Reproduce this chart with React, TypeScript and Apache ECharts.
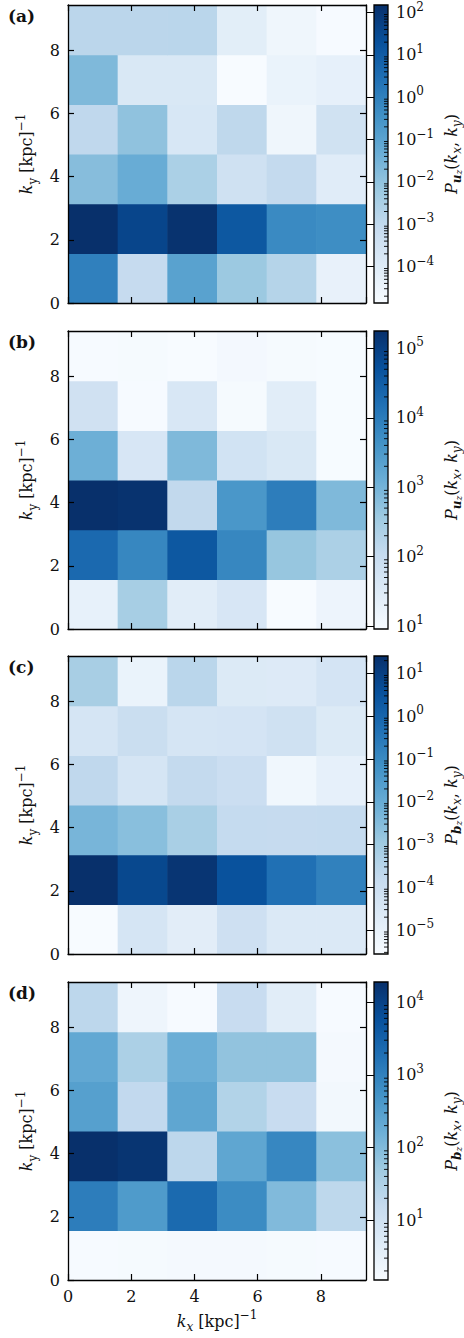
import React, { useEffect, useRef } from 'react';
import * as echarts from 'echarts';

// bin edges of k_x and k_y in [kpc]^-1
const kEdges = [0, Math.PI / 2, Math.PI, 1.5 * Math.PI, 2 * Math.PI, 2.5 * Math.PI, 3 * Math.PI];

// power spectra, rows = k_y bin (bottom -> top), columns = k_x bin (left -> right)
const powerUzA = [
  [1.04, 7.9e-4, 0.11, 6.5e-3, 1.9e-3, 4.7e-5],
  [151, 41, 129, 12.9, 0.56, 0.44],
  [1.5e-2, 5.4e-2, 3.1e-3, 3.7e-4, 8.7e-4, 8.9e-5],
  [1.08e-3, 1.04e-2, 1.85e-4, 1.14e-3, 2.6e-5, 3.4e-4],
  [2.07e-2, 1.6e-4, 1.6e-4, 1.38e-5, 4.0e-5, 5.5e-5],
  [1.4e-3, 1.4e-3, 1.45e-3, 7.6e-5, 2.6e-5, 1.5e-5],
];
const powerUzB = [
  [20, 277, 27, 45, 9.2, 15],
  [2.04e4, 6600, 3.96e4, 6600, 437, 241],
  [1.78e5, 1.62e5, 123, 3440, 9500, 785],
  [1216, 45, 785, 60, 40, 9.3],
  [65, 9.5, 42, 10.1, 27, 9.3],
  [9.5, 10, 9.2, 11, 9.8, 9.4],
];
const powerBzC = [
  [2.75e-6, 4.2e-5, 1.5e-5, 7.8e-5, 2.6e-5, 2.6e-5],
  [25.7, 6.1, 18.7, 3.3, 0.5, 0.18],
  [5.0e-3, 2.56e-3, 6.5e-4, 1.6e-4, 1.5e-4, 1.6e-4],
  [2.07e-4, 4.2e-5, 1.67e-4, 1.0e-4, 4.8e-6, 1.08e-5],
  [4.2e-5, 1.1e-4, 4.2e-5, 4.7e-5, 7.2e-5, 2.4e-5],
  [6.9e-4, 7.8e-6, 2.75e-4, 2.4e-5, 2.2e-5, 4.7e-5],
];
const powerBzD = [
  [1.6, 1.65, 1.7, 1.75, 1.65, 1.6],
  [1175, 378, 2340, 692, 101, 20],
  [1.9e4, 1.6e4, 20.6, 236, 805, 80],
  [307, 17.8, 236, 28.5, 14.6, 1.9],
  [217, 34, 170, 69, 69, 1.7],
  [21, 2.3, 1.6, 14.6, 4.3, 1.6],
];

// colour-bar ranges (log norm)
const rangeUzA = [1.38e-5, 151];
const rangeUzB = [9.06, 1.78e5];
const rangeBzC = [2.75e-6, 25.7];
const rangeBzD = [1.5, 1.9e4];

const panelTags = ['(a)', '(b)', '(c)', '(d)'];
const panelFields = ['u', 'u', 'b', 'b'];

const BLUES = ['#f7fbff', '#deebf7', '#c6dbef', '#9ecae1', '#6baed6', '#4292c6', '#2171b5', '#08519c', '#08306b'];
const FONT = 'DejaVu Serif';
const INK = '#111';

const GRID_LEFT = 68;
const GRID_W = 298;
const CB_LEFT = 374;
const CB_W = 15;
const TOPS = [5, 331, 656, 982];
const H = 298;

const base = { fontFamily: FONT, color: INK };
const rich: any = {
  i: { ...base, fontSize: 16, fontStyle: 'italic', lineHeight: 24 },
  n: { ...base, fontSize: 16, lineHeight: 24 },
  sb: { ...base, fontSize: 12, lineHeight: 14, verticalAlign: 'bottom' },
  sbi: { ...base, fontSize: 12, fontStyle: 'italic', lineHeight: 14, verticalAlign: 'bottom' },
  bsb: { ...base, fontSize: 12, fontStyle: 'italic', fontWeight: 'bold', lineHeight: 16, verticalAlign: 'bottom' },
  ssb: { ...base, fontSize: 9, fontStyle: 'italic', lineHeight: 6, verticalAlign: 'bottom' },
  sp: { ...base, fontSize: 12, lineHeight: 12, verticalAlign: 'top' },
  b: { ...base, fontSize: 16, lineHeight: 24 },
  s: { ...base, fontSize: 12, lineHeight: 12, verticalAlign: 'top' },
};

function decadeLabel(v: number) {
  const n = Math.log10(v);
  const r = Math.round(n);
  if (Math.abs(n - r) > 1e-6) return '';
  return `{b|10}{s|${r < 0 ? '\u2212' + -r : r}}`;
}

function minorTicks(range: number[]) {
  const out: number[][] = [];
  const lo = Math.floor(Math.log10(range[0]));
  const hi = Math.ceil(Math.log10(range[1]));
  for (let e = lo; e <= hi; e++) {
    for (let k = 2; k <= 9; k++) {
      const v = k * Math.pow(10, e);
      if (v > range[0] && v < range[1]) out.push([1, v]);
    }
  }
  return out;
}

function buildOption() {
  const valuesList = [powerUzA, powerUzB, powerBzC, powerBzD];
  const ranges = [rangeUzA, rangeUzB, rangeBzC, rangeBzD];
  const grid: any[] = [];
  const xAxis: any[] = [];
  const yAxis: any[] = [];
  const series: any[] = [];
  const visualMap: any[] = [];
  const graphic: any[] = [];

  const frameLine = { show: true, onZero: false, lineStyle: { color: '#000', width: 1.3 } };
  const tick = { show: true, inside: true, length: 6, lineStyle: { color: '#000', width: 1.2 } };
  const tickLabel = {
    show: true,
    fontFamily: FONT,
    fontSize: 16,
    color: INK,
    margin: 8,
    showMaxLabel: false,
    formatter: (v: number) => (Math.abs(v - Math.round(v)) < 1e-9 ? String(Math.round(v)) : ''),
  };
  const kMax = kEdges[kEdges.length - 1];

  valuesList.forEach((values, idx) => {
    const top = TOPS[idx];
    const range = ranges[idx];
    const last = idx === valuesList.length - 1;
    const g = idx * 2;
    grid.push({ left: GRID_LEFT, top, width: GRID_W, height: H });
    grid.push({ left: CB_LEFT, top, width: CB_W, height: H });

    const common = { type: 'value', min: 0, max: kMax, interval: 2, z: 5, splitLine: { show: false }, axisLine: frameLine, axisTick: tick };
    xAxis.push({
      ...common,
      gridIndex: g,
      position: 'bottom',
      axisLabel: last ? tickLabel : { show: false },
      name: last ? '{i|k}{sbi|x}{n| [kpc]}{sp|\u22121}' : '',
      nameLocation: 'middle',
      nameGap: 29,
      nameTextStyle: { ...base, fontSize: 16, rich },
    });
    xAxis.push({ ...common, gridIndex: g, position: 'top', axisLabel: { show: false } });
    xAxis.push({ type: 'value', gridIndex: g + 1, min: 0, max: 1, show: false });

    yAxis.push({
      ...common,
      gridIndex: g,
      position: 'left',
      axisLabel: tickLabel,
      name: '{i|k}{sb|y}{n| [kpc]}{sp|\u22121}',
      nameLocation: 'middle',
      nameRotate: 90,
      nameGap: 25,
      nameTextStyle: { ...base, fontSize: 16, rich },
    });
    yAxis.push({ ...common, gridIndex: g, position: 'right', axisLabel: { show: false } });
    yAxis.push({
      type: 'log',
      logBase: 10,
      gridIndex: g + 1,
      min: range[0],
      max: range[1],
      position: 'right',
      z: 5,
      axisLine: { show: false },
      axisTick: { show: true, inside: true, length: 7, lineStyle: { color: '#000', width: 1 } },
      minorTick: { show: false },
      splitLine: { show: false },
      axisLabel: {
        show: true,
        margin: 8,
        showMinLabel: false,
        showMaxLabel: false,
        formatter: (v: number) => decadeLabel(v),
        rich,
      },
      name: `{i|P}{bsb|${panelFields[idx]}}{ssb|z}{n|(}{i|k}{sbi|x}{n|, }{i|k}{sbi|y}{n|)}`,
      nameLocation: 'middle',
      nameRotate: 90,
      nameGap: 51,
      nameTextStyle: { ...base, fontSize: 16, rich },
    });

    const data: number[][] = [];
    values.forEach((row, j) => row.forEach((v, i) => data.push([i, j, Math.log10(v)])));

    series.push({
      type: 'custom',
      xAxisIndex: idx * 3,
      yAxisIndex: idx * 3,
      clip: true,
      data,
      encode: { x: 0, y: 1 },
      renderItem: (_p: any, api: any) => {
        const i = api.value(0);
        const j = api.value(1);
        const a = api.coord([kEdges[i], kEdges[j + 1]]);
        const b = api.coord([kEdges[i + 1], kEdges[j]]);
        return {
          type: 'rect',
          shape: { x: a[0], y: a[1], width: b[0] - a[0] + 0.6, height: b[1] - a[1] + 0.6 },
          style: { fill: api.visual('color') },
        };
      },
    });
    series.push({
      type: 'custom',
      xAxisIndex: idx * 3 + 2,
      yAxisIndex: idx * 3 + 2,
      data: [[0, range[0]]],
      encode: { x: 0, y: 1 },
      renderItem: (_p: any, api: any) => {
        const a = api.coord([0, range[1]]);
        const b = api.coord([1, range[0]]);
        const stops = BLUES.map((c, k) => ({ offset: k / (BLUES.length - 1), color: c }));
        return {
          type: 'group',
          children: [
            {
              type: 'rect',
              shape: { x: a[0], y: a[1], width: b[0] - a[0], height: b[1] - a[1] },
              style: { fill: { type: 'linear', x: 0, y: 1, x2: 0, y2: 0, colorStops: stops } },
            },
            {
              type: 'rect',
              shape: { x: a[0], y: a[1], width: b[0] - a[0], height: b[1] - a[1] },
              style: { fill: 'none', stroke: '#000', lineWidth: 1.3 },
            },
          ],
        };
      },
    });
    series.push({
      type: 'custom',
      xAxisIndex: idx * 3 + 2,
      yAxisIndex: idx * 3 + 2,
      data: minorTicks(range),
      encode: { x: 0, y: 1 },
      renderItem: (_p: any, api: any) => {
        const p = api.coord([1, api.value(1)]);
        return {
          type: 'line',
          shape: { x1: p[0], y1: p[1], x2: p[0] - 4, y2: p[1] },
          style: { stroke: '#000', lineWidth: 0.9 },
        };
      },
    });

    visualMap.push({
      type: 'continuous',
      show: false,
      seriesIndex: idx * 3,
      dimension: 2,
      min: Math.log10(range[0]),
      max: Math.log10(range[1]),
      inRange: { color: BLUES },
    });

    graphic.push({
      type: 'text',
      left: 8,
      top: top + 2,
      style: { text: panelTags[idx], fontFamily: FONT, fontSize: 17, fontWeight: 'bold', fill: INK },
    });
  });

  return { animation: false, backgroundColor: '#fff', grid, xAxis, yAxis, series, visualMap, graphic };
}

export default function App() {
  const ref = useRef<HTMLDivElement>(null);
  useEffect(() => {
    const chart = echarts.init(ref.current!, undefined, { renderer: 'svg' });
    chart.setOption(buildOption() as any);
    return () => chart.dispose();
  }, []);
  return <div ref={ref} style={{ position: 'absolute', left: 0, top: 0, width: 464, height: 1338 }} />;
}
